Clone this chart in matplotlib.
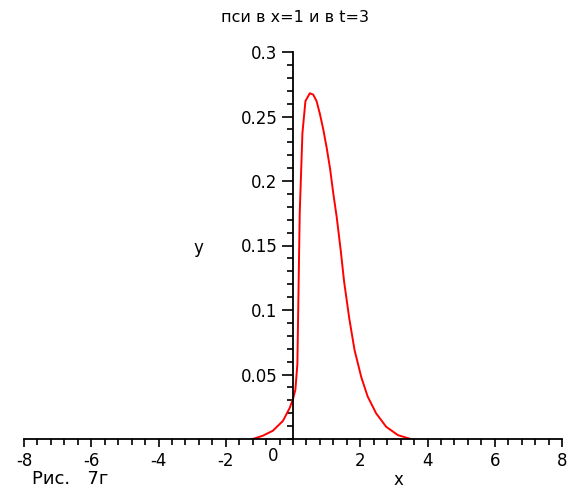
import matplotlib
matplotlib.use("Agg")
import matplotlib.pyplot as plt
import numpy as np
from matplotlib.ticker import MultipleLocator, FixedLocator

# psi(x=1, t=3) as a function of y
y_vals = [-1.2, -0.9, -0.6, -0.3, -0.1, 0.0, 0.07, 0.13, 0.2, 0.28, 0.37,
          0.5, 0.6, 0.7, 0.8, 0.9, 1.0, 1.1, 1.2, 1.3, 1.42, 1.52, 1.67,
          1.83, 2.03, 2.22, 2.47, 2.77, 3.12, 3.5]
psi_vals = [0.0, 0.0025, 0.0064, 0.014, 0.024, 0.031, 0.038, 0.058, 0.175,
            0.237, 0.262, 0.268, 0.267, 0.262, 0.252, 0.24, 0.226, 0.21,
            0.19, 0.172, 0.146, 0.122, 0.094, 0.069, 0.048, 0.033, 0.020,
            0.0095, 0.003, 0.0]

x_ticks = [-8, -6, -4, -2, 2, 4, 6, 8]
y_ticks = [0.05, 0.1, 0.15, 0.2, 0.25, 0.3]
y_ticklabels = ["0.05", "0.1", "0.15", "0.2", "0.25", "0.3"]

plt.rcParams['font.family'] = ['DejaVu Sans']

fig = plt.figure(figsize=(5.7, 4.91), dpi=100)
ax = fig.add_axes([24 / 570, 52 / 491, 538 / 570, 387 / 491])

ax.plot(y_vals, psi_vals, color='red', lw=1.4)

ax.set_xlim(-8, 8)
ax.set_ylim(0, 0.3)

# axes cross at the origin, Maple style
ax.spines['left'].set_position(('data', 0))
ax.spines['bottom'].set_position(('data', 0))
ax.spines['right'].set_visible(False)
ax.spines['top'].set_visible(False)
for s in ('left', 'bottom'):
    ax.spines[s].set_linewidth(1.3)

ax.xaxis.set_major_locator(FixedLocator(x_ticks))
ax.xaxis.set_minor_locator(MultipleLocator(0.4))
ax.yaxis.set_major_locator(FixedLocator(y_ticks))
ax.yaxis.set_minor_locator(MultipleLocator(0.01))
ax.set_xticklabels([str(t) for t in x_ticks])
ax.set_yticklabels(y_ticklabels)

ax.tick_params(axis='both', which='major', direction='out', length=6,
               width=1.2, labelsize=12, pad=3)
ax.tick_params(axis='both', which='minor', direction='out', length=4,
               width=1.2)
ax.tick_params(axis='y', which='major', length=8)

# the zero label sits to the left of the vertical axis
ax.text(-0.6, -0.006, "0", ha='center', va='top', fontsize=12)

ax.text(-2.8, 0.148, "y", ha='center', va='center', fontsize=12)

fig.text(295 / 570, 1 - 18 / 491, "пси в x=1 и в t=3", ha='center',
         va='center', fontsize=11.5)
fig.text(398 / 570, 1 - 489 / 491, "x", ha='center', va='bottom',
         fontsize=12)
fig.text(32 / 570, 1 - 488 / 491, "Рис.   7г", ha='left', va='bottom',
         fontsize=13)

fig.savefig("out.png", dpi=100)
